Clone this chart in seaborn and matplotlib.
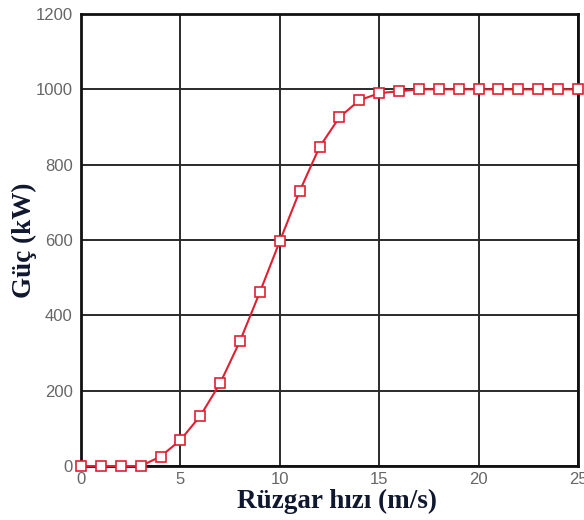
import matplotlib
matplotlib.use("Agg")
import matplotlib.pyplot as plt
import seaborn as sns
import pandas as pd
from matplotlib.ticker import MultipleLocator

wind_speed = list(range(0, 26))
power_kw = [0, 0, 0, 0, 25, 69, 133, 220, 332, 462, 597, 730, 847, 926, 971, 990,
            995, 1000, 1000, 1000, 1000, 1000, 1000, 1000, 1000, 1000]

df = pd.DataFrame({"x": wind_speed, "y": power_kw})

sns.set_style("white")
fig = plt.figure(figsize=(5.84, 5.2), dpi=100)
ax = fig.add_axes([0.1387, 0.1038, 0.8510, 0.8692])

sns.lineplot(data=df, x="x", y="y", ax=ax, color="#e02030", linewidth=1.5,
             marker="s", markersize=7.5, markerfacecolor="white",
             markeredgecolor="#e02030", markeredgewidth=1.2, zorder=3, clip_on=False)

ax.set_xlim(0, 25)
ax.set_ylim(0, 1200)
ax.xaxis.set_major_locator(MultipleLocator(5))
ax.xaxis.set_minor_locator(MultipleLocator(1))
ax.yaxis.set_major_locator(MultipleLocator(200))
ax.yaxis.set_minor_locator(MultipleLocator(50))
ax.grid(True, which="major", color="#2a2a2a", linewidth=1.4)
ax.set_axisbelow(True)

ax.tick_params(which="both", direction="in", colors="#222222", labelcolor="#666666",
               labelsize=12, width=1.5)
ax.tick_params(which="major", length=6)
ax.tick_params(which="minor", length=4)
ax.tick_params(axis="x", pad=4)
ax.tick_params(axis="y", pad=6)
for lbl in ax.get_xticklabels() + ax.get_yticklabels():
    lbl.set_family("Liberation Sans")

for s in ax.spines.values():
    s.set_color("#111111")
    s.set_linewidth(2)

ax.set_xlabel("Rüzgar hızı (m/s)", family="Liberation Serif", fontweight="bold",
              fontsize=19.5, color="#101830", labelpad=0)
ax.xaxis.set_label_coords(0.515, -0.05)
ax.set_ylabel("Güç (kW)", family="Liberation Serif", fontweight="bold",
              fontsize=19.5, color="#101830")
ax.yaxis.set_label_coords(-0.089, 0.5)

fig.savefig("out.png", dpi=100)
